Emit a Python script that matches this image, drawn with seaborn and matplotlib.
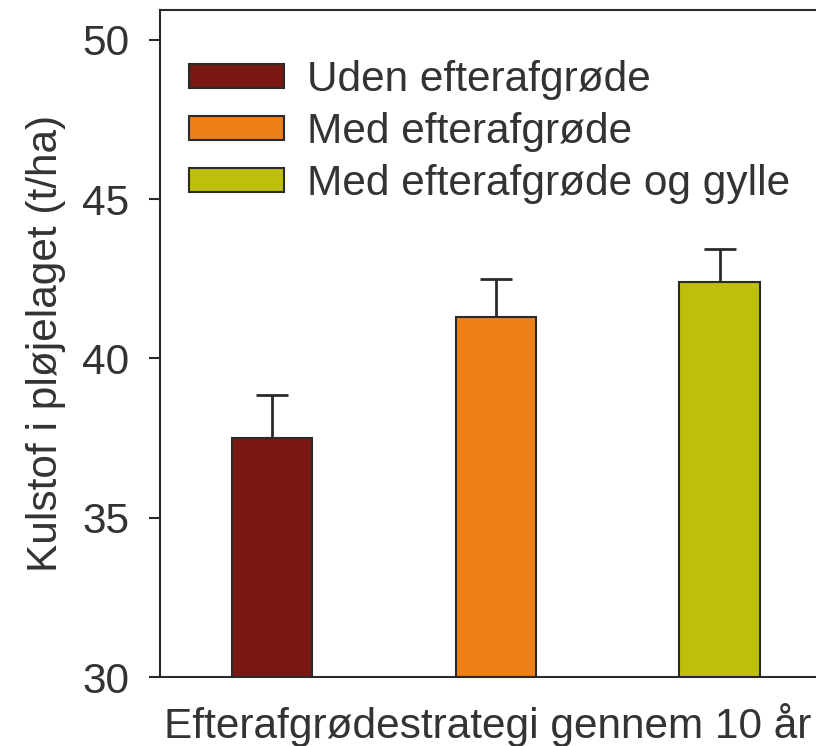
import matplotlib
matplotlib.use("Agg")
import matplotlib.pyplot as plt
import seaborn as sns
import pandas as pd

# Carbon in the plough layer after 10 years, by catch-crop strategy
strategies = ["Uden efterafgrøde", "Med efterafgrøde", "Med efterafgrøde og gylle"]
carbon = [37.5, 41.3, 42.4]
carbon_se = [1.35, 1.2, 1.05]
colors = ["#7B1712", "#EE7F16", "#BFBE0A"]
yticks = [30, 35, 40, 45, 50]

sns.set_theme(style="white")
plt.rcParams["font.family"] = ["Liberation Sans", "DejaVu Sans"]
text_color = "#333333"

df = pd.DataFrame({"strategi": strategies, "kulstof": carbon})

fig = plt.figure(figsize=(8.16, 7.46), dpi=100)
ax = fig.add_axes([160 / 816, 69 / 746, 1 - 160 / 816, 667 / 746])

sns.barplot(data=df, x="strategi", y="kulstof", hue="strategi",
            palette=colors, order=strategies, hue_order=strategies,
            saturation=1, width=0.36, edgecolor="#2a2a2a", linewidth=1.5,
            dodge=False, legend=True, ax=ax, zorder=2)

# upper error bars only
ax.errorbar(range(len(carbon)), carbon, yerr=[[0] * len(carbon), carbon_se],
            fmt="none", ecolor="#2a2a2a", elinewidth=2, capsize=11.5,
            capthick=2, zorder=1)

ax.set_ylim(30, 50.94)
ax.set_xlim(-0.5, 2.43)
ax.set_yticks(yticks)
ax.set_yticklabels([str(t) for t in yticks], fontsize=30.5, color=text_color)
ax.set_xticks([])
ax.tick_params(axis="y", which="both", left=True, length=8, width=1.5,
               color="#2a2a2a", pad=14)

for side in ["left", "bottom", "top"]:
    ax.spines[side].set_visible(True)
    ax.spines[side].set_color("#2a2a2a")
    ax.spines[side].set_linewidth(1.5)
ax.spines["right"].set_visible(False)

ax.set_xlabel("Efterafgrødestrategi gennem 10 år", fontsize=30.5,
              color=text_color, labelpad=19)
ax.set_ylabel("Kulstof i pløjelaget (t/ha)", fontsize=30.5,
              color=text_color, labelpad=12)

leg = ax.legend(loc="upper left", bbox_to_anchor=(0.018, 0.950), frameon=False,
                fontsize=30.5, handlelength=2.25, handleheight=0.5,
                handletextpad=0.55, labelspacing=0.28, borderaxespad=0)
for t in leg.get_texts():
    t.set_color(text_color)

fig.savefig("out.png", dpi=100)
